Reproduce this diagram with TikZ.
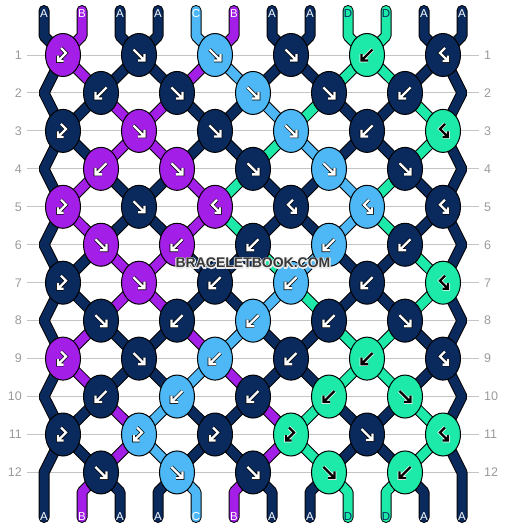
\documentclass[tikz,border=0pt]{standalone}
\usepackage{fontspec}
\setmainfont{Liberation Sans}
\usetikzlibrary{shapes.geometric}
\definecolor{colA}{HTML}{0A2A5E}
\definecolor{colB}{HTML}{A31EE6}
\definecolor{colC}{HTML}{4DB8F5}
\definecolor{colD}{HTML}{1DE9A8}
\definecolor{gridgrey}{HTML}{C4C4C4}
\definecolor{numgrey}{HTML}{9A9A9A}
\definecolor{wmgrey}{HTML}{383838}
\pgfdeclarelayer{grid}
\pgfdeclarelayer{strings}
\pgfsetlayers{grid,strings,main}

\newcommand\setpos[3]{%
  \ifodd#1\relax
    \pgfmathtruncatemacro\kk{floor(#2/2)}%
  \else
    \pgfmathtruncatemacro\kk{floor((#2-1)/2)}%
  \fi
  \edef#3{k#1-\kk}}

\def\apathf{(-5.5,-5.5) -- (5.5,5.5) (-1,5.5) -- (5.5,5.5) -- (5.5,-1)}
\def\apathb{(5.5,-5.5) -- (-5.5,5.5) (1,5.5) -- (-5.5,5.5) -- (-5.5,-1)}
\def\apathbf{(-2,-7) -- (3,-2) -- (-5,6) (0.5,6) -- (-5,6) -- (-5,0.5)}
\def\apathfb{(2,-7) -- (-3,-2) -- (5,6) (-0.5,6) -- (5,6) -- (5,0.5)}

\newcommand\karrow[3]{%
  \if#3D\def\acol{black}\def\ocol{white}\else\def\acol{white}\def\ocol{black}\fi
  \expandafter\let\expandafter\curpath\csname apath#2\endcsname
  \draw[shift={(#1.center)}, draw=\ocol, line width=3.6pt, line join=miter] \curpath;
  \draw[shift={(#1.center)}, draw=\acol, line width=2.3pt, line join=miter] \curpath;
}

\newcommand\drawstrings[1]{%
  % top ends
  \foreach \cl [count=\q from 0] in {A,B,A,A,C,B,A,A,D,D,A,A}{
    \pgfmathtruncatemacro\kk{floor(\q/2)}
    \draw[stroke#1=\cl] (t\q) -- (tb\q) -- (k1-\kk.center);
  }
  % edges
  \foreach \r in {2,4,6,8,10}{
    \pgfmathtruncatemacro\ra{\r-1}
    \pgfmathtruncatemacro\rb{\r+1}
    \draw[stroke#1=A] (k\ra-0.center) -- (eL\r) -- (k\rb-0.center);
    \draw[stroke#1=A] (k\ra-5.center) -- (eR\r) -- (k\rb-5.center);
  }
  \draw[stroke#1=A] (k11-0.center) -- (eL12) -- (b0);
  \draw[stroke#1=A] (k11-5.center) -- (eR12) -- (b11);
  % bottom ends
  \foreach \cl [count=\q] in {B,A,A,C,B,A,A,D,D,A}{
    \pgfmathtruncatemacro\kk{floor((\q-1)/2)}
    \draw[stroke#1=\cl] (k12-\kk.center) -- (bb\q) -- (b\q);
  }
  % inner segments
  \foreach \r/\cols in {1/{B,A,A,B,C,A,A,D,D,A},2/{A,B,B,A,A,C,D,A,A,D},
      3/{A,B,B,A,A,D,C,A,A,D},4/{B,A,A,B,D,A,A,C,D,A},5/{B,A,A,B,D,A,A,C,D,A},
      6/{A,B,B,A,A,D,C,A,A,D},7/{A,B,B,A,A,C,D,A,A,D},8/{B,A,A,B,C,A,A,D,D,A},
      9/{B,A,A,C,B,A,A,D,D,A},10/{A,B,C,A,A,B,D,A,A,D},11/{A,B,C,A,A,B,D,A,A,D}}{
    \pgfmathtruncatemacro\rn{\r+1}
    \foreach \cl [count=\q] in \cols {
      \setpos{\r}{\q}\fa
      \setpos{\rn}{\q}\fb
      \draw[stroke#1=\cl] (\fa.center) -- (\fb.center);
    }
  }
}

\begin{document}
\begin{tikzpicture}[x=1pt,y=-1pt,
  knot/.style={ellipse, draw=black, line width=1pt, minimum width=35pt, minimum height=43pt, inner sep=0pt},
  strokeO/.style={draw=black, line width=11pt, line cap=round, line join=bevel},
  strokeF/.style={draw=col#1, line width=9pt, line cap=round, line join=bevel},
  rownum/.style={text=numgrey, font=\fontsize{12.5}{14}\selectfont, inner sep=0pt},
  endlabel/.style={font=\fontsize{11.5}{13}\selectfont, inner sep=0pt},
  wmtext/.style={font=\fontsize{14}{16}\selectfont\bfseries, inner sep=0pt}]
\useasboundingbox (0,0) rectangle (506,528);

% grid lines and row numbers
\begin{pgfonlayer}{grid}
\foreach \r in {1,...,12}{
  \pgfmathsetmacro\yy{55+37.95*(\r-1)}
  \coordinate (gl\r) at (27,\yy);
  \coordinate (gr\r) at (479,\yy);
  \draw[gridgrey, line width=1pt] (gl\r) -- (gr\r);
  \node[rownum, anchor=east] (nl\r) at (22,\yy) {\r};
  \node[rownum, anchor=west] (nr\r) at (484,\yy) {\r};
}
\end{pgfonlayer}

% string end and edge coordinates
\foreach \q in {0,...,11}{
  \pgfmathsetmacro\sx{44+38*\q}
  \coordinate (t\q) at (\sx,10.5);
  \coordinate (tb\q) at (\sx,36);
  \coordinate (bb\q) at (\sx,492);
  \coordinate (b\q) at (\sx,517.5);
}
\foreach \r in {2,4,...,12}{
  \pgfmathsetmacro\yy{55+37.95*(\r-1)}
  \coordinate (eL\r) at (44,\yy);
  \coordinate (eR\r) at (462,\yy);
}

% knots
\foreach \r/\ks in {
  1/{B/bf,A/f,C/f,A/f,D/b,A/fb},
  2/{A/b,A/f,C/f,A/f,A/b},
  3/{A/bf,B/f,A/f,C/f,A/b,D/fb},
  4/{B/b,B/f,A/f,C/f,A/f},
  5/{B/bf,A/f,B/fb,A/fb,C/fb,A/fb},
  6/{B/f,B/b,A/b,C/b,A/b},
  7/{A/bf,B/f,A/b,C/b,A/b,D/fb},
  8/{A/f,A/b,C/b,A/b,A/f},
  9/{B/bf,A/f,C/b,A/b,D/b,A/fb},
  10/{A/b,C/b,A/b,D/b,D/f},
  11/{A/bf,C/bf,A/bf,D/bf,A/f,D/fb},
  12/{A/f,C/f,A/f,D/f,D/b}}{
  \ifodd\r\relax\def\xo{63}\else\def\xo{101}\fi
  \pgfmathsetmacro\yy{55+37.95*(\r-1)}
  \foreach \cl/\kt [count=\kn from 0] in \ks {
    \pgfmathsetmacro\kx{\xo+76*\kn}
    \node[knot, fill=col\cl] (k\r-\kn) at (\kx,\yy) {};
    \karrow{k\r-\kn}{\kt}{\cl}
  }
}

% strings
\begin{pgfonlayer}{strings}
\drawstrings{O}
\drawstrings{F}
\end{pgfonlayer}

% end labels
\foreach \cl [count=\q from 0] in {A,B,A,A,C,B,A,A,D,D,A,A}{
  \if\cl D\def\lc{colA}\else\def\lc{white}\fi
  \pgfmathsetmacro\sx{44+38*\q}
  \node[endlabel, text=\lc] (lt\q) at (\sx,13.5) {\cl};
  \node[endlabel, text=\lc] (lb\q) at (\sx,516.5) {\cl};
}

% watermark: light halo (stroked glyphs) under the dark text
\node[wmtext, text=white] (wmhalo) at (253,263)
  {\special{pdf:literal direct 0.92 0.92 0.92 RG 2.2 w 1 j 1 Tr}BRACELETBOOK.COM\special{pdf:literal direct 0 Tr}};
\node[wmtext, text=wmgrey] (wm) at (253,263) {BRACELETBOOK.COM};
\end{tikzpicture}
\end{document}
